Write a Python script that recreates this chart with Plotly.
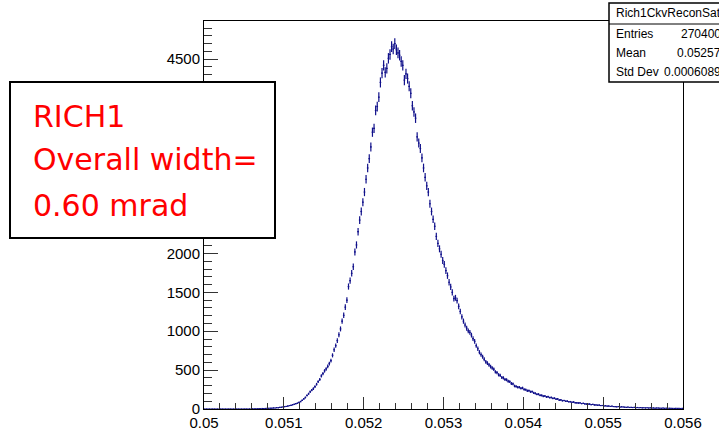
import plotly.graph_objects as go

# Histogram Rich1CkvReconSat: 300 bins of 2e-5 rad between 0.050 and 0.056
x_min = 0.050
x_max = 0.056
n_bins = 300
bin_counts = [
    0, 0, 0, 0, 0, 0, 0, 0, 0, 0,
    0, 0, 0, 0, 0, 0, 0, 0, 0, 0,
    0, 0, 0, 0, 0, 0, 0, 0, 1, 0,
    2, 1, 3, 2, 4, 3, 6, 5, 7, 8,
    9, 11, 10, 14, 13, 17, 16, 21, 23, 26,
    30, 33, 38, 44, 47, 55, 61, 68, 74, 84,
    95, 112, 131, 148, 174, 196, 222, 243, 262, 288,
    318, 352, 380, 425, 455, 490, 515, 548, 585, 622,
    690, 762, 815, 880, 955, 1030, 1130, 1205, 1310, 1400,
    1575, 1650, 1745, 1830, 2020, 2110, 2280, 2430, 2540, 2660,
    2790, 2955, 3100, 3220, 3370, 3560, 3610, 3840, 3890, 4010,
    4200, 4320, 4420, 4330, 4380, 4510, 4560, 4660, 4630, 4700,
    4620, 4580, 4550, 4470, 4420, 4230, 4310, 4250, 4150, 4060,
    3900, 3820, 3740, 3500, 3420, 3350, 3230, 3100, 2980, 2870,
    2790, 2640, 2540, 2440, 2350, 2220, 2130, 2060, 1990, 1910,
    1860, 1780, 1715, 1630, 1570, 1500, 1420, 1430, 1395, 1320,
    1255, 1185, 1130, 1080, 1040, 1005, 985, 950, 905, 870,
    815, 775, 730, 700, 672, 640, 605, 590, 568, 545,
    528, 512, 478, 468, 440, 432, 405, 401, 380, 376,
    358, 352, 328, 322, 296, 290, 279, 280, 266, 271,
    252, 249, 235, 236, 222, 224, 206, 201, 189, 190,
    176, 175, 165, 167, 155, 158, 147, 148, 137, 139,
    128, 130, 115, 117, 107, 109, 99, 101, 93, 94,
    87, 89, 81, 80, 77, 78, 70, 73, 66, 64,
    62, 64, 57, 59, 53, 52, 49, 50, 44, 45,
    39, 42, 37, 38, 33, 36, 31, 30, 28, 31,
    25, 28, 26, 24, 21, 25, 20, 22, 19, 21,
    17, 19, 16, 18, 15, 16, 14, 16, 13, 15,
    12, 14, 11, 13, 12, 11, 10, 12, 9, 11,
    8, 10, 9, 8, 7, 9, 8, 7, 6, 8,
]

x_tick_vals = [0.050, 0.051, 0.052, 0.053, 0.054, 0.055, 0.056]
x_tick_text = ["0.05", "0.051", "0.052", "0.053", "0.054", "0.055", "0.056"]
# labels 2500-4000 sit underneath the note box, so they are left blank
y_tick_vals = [0, 500, 1000, 1500, 2000, 2500, 3000, 3500, 4000, 4500]
y_tick_text = ["0", "500", "1000", "1500", "2000", "", "", "", "", "4500"]

stats_title = "Rich1CkvReconSat"
stats_labels = ["Entries", "Mean", "Std Dev"]
stats_values = ["270400", "0.05257", "0.0006089"]

note_lines = ["RICH1", "Overall width=", "0.60 mrad"]

bin_width = (x_max - x_min) / n_bins
centers = [x_min + (i + 0.5) * bin_width for i in range(n_bins)]
errors = [c ** 0.5 for c in bin_counts]

# canvas geometry (pixels)
W, H = 719, 431
L, R, T, B = 204, 683, 21, 409
pw, ph = R - L, B - T


def px(x):
    return (x - L) / pw


def py(y):
    return (B - y) / ph


line_col = "#10108a"

fig = go.Figure()
fig.add_trace(go.Scatter(
    x=centers, y=bin_counts, mode="markers",
    marker=dict(size=1, color=line_col),
    error_x=dict(type="constant", value=bin_width / 2, width=0,
                 color=line_col, thickness=1.2),
    error_y=dict(type="data", array=errors, width=0,
                 color=line_col, thickness=1.2),
    hoverinfo="x+y", showlegend=False,
))

tick_font = dict(family="Liberation Sans, Arial, sans-serif", size=15, color="black")

fig.update_layout(
    width=W, height=H,
    margin=dict(l=L, r=W - R, t=T, b=H - B, pad=0),
    paper_bgcolor="white", plot_bgcolor="white",
    xaxis=dict(
        range=[x_min, x_max], tickvals=x_tick_vals, ticktext=x_tick_text,
        ticks="inside", ticklen=12, tickcolor="#333", tickwidth=1,
        minor=dict(dtick=0.0002, tick0=0.05, ticks="inside", ticklen=6,
                   tickcolor="#333", showgrid=False),
        showgrid=False, zeroline=False, automargin=False,
        showline=True, linecolor="black", linewidth=1, mirror=True,
        tickfont=tick_font,
    ),
    yaxis=dict(
        range=[0, 4990], tickvals=y_tick_vals, ticktext=y_tick_text,
        ticks="inside", ticklen=14, tickcolor="#333", tickwidth=1,
        minor=dict(dtick=100, tick0=0, ticks="inside", ticklen=8,
                   tickcolor="#333", showgrid=False),
        showgrid=False, zeroline=False, automargin=False,
        showline=True, linecolor="black", linewidth=1, mirror=True,
        tickfont=tick_font,
    ),
)

# statistics box in the upper right corner
fig.add_shape(type="rect", xref="paper", yref="paper",
              x0=px(609), x1=px(740), y0=py(82), y1=py(3),
              line=dict(color="black", width=1.5), fillcolor="white",
              layer="above")
fig.add_shape(type="line", xref="paper", yref="paper",
              x0=px(609), x1=px(740), y0=py(24), y1=py(24),
              line=dict(color="black", width=1), layer="above")

stat_font = dict(family="Liberation Sans, Arial, sans-serif", size=12, color="black")
fig.add_annotation(xref="paper", yref="paper", x=px(614), y=py(13),
                   text=stats_title, showarrow=False, xanchor="left",
                   yanchor="middle", font=stat_font)
for label, value, yy in zip(stats_labels, stats_values, [34, 53, 72]):
    fig.add_annotation(xref="paper", yref="paper", x=px(614), y=py(yy),
                       text=label, showarrow=False, xanchor="left",
                       yanchor="middle", font=stat_font)
    fig.add_annotation(xref="paper", yref="paper", x=px(723), y=py(yy),
                       text=value, showarrow=False, xanchor="right",
                       yanchor="middle", font=stat_font)

# red note box on the left
fig.add_shape(type="rect", xref="paper", yref="paper",
              x0=px(10), x1=px(275), y0=py(238), y1=py(82),
              line=dict(color="black", width=2), fillcolor="white",
              layer="above")
note_font = dict(family="DejaVu Sans, sans-serif", size=30, color="#ff0000")
for text, yy in zip(note_lines, [116, 160, 205]):
    fig.add_annotation(xref="paper", yref="paper", x=px(31), y=py(yy),
                       text=text, showarrow=False, xanchor="left",
                       yanchor="middle", font=note_font)

fig.write_html("out.html")
